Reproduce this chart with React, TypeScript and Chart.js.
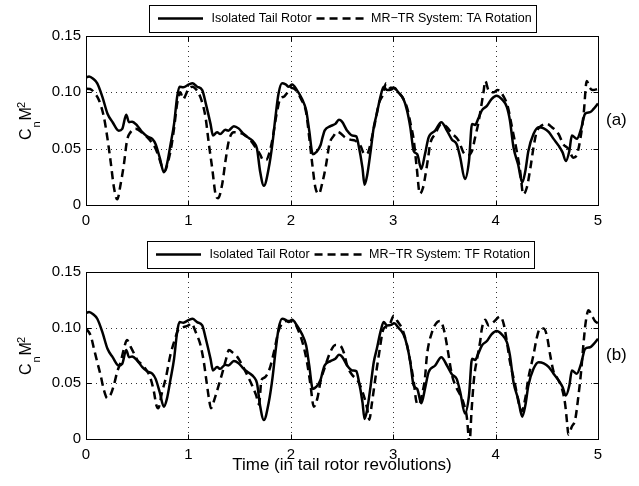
import { useEffect, useRef } from "react";
import { Chart, registerables } from "chart.js";

Chart.register(...registerables);

// ---------- data ----------
const xTicks = [0, 1, 2, 3, 4, 5];
const yTicks = [0, 0.05, 0.1, 0.15];

const seriesIso = "Isolated Tail Rotor";
const seriesTA = "MR\u2212TR System: TA Rotation";
const seriesTF = "MR\u2212TR System: TF Rotation";
const panelTags = ["(a)", "(b)"];
const xTitle = "Time (in tail rotor revolutions)";

// Isolated tail rotor (same curve in both panels)
const isoX = [
  0.0, 0.03, 0.07, 0.11, 0.16, 0.21, 0.26, 0.32, 0.354, 0.393, 0.42, 0.45, 0.5, 0.55, 0.6, 0.647, 0.68, 0.72, 0.76,
  0.79, 0.826, 0.86, 0.89, 0.913, 0.95, 1.005, 1.04, 1.085, 1.135, 1.17, 1.216, 1.24, 1.28, 1.31, 1.36, 1.39, 1.444,
  1.49, 1.54, 1.59, 1.64, 1.67, 1.7, 1.737, 1.785, 1.82, 1.85, 1.88, 1.915, 1.95, 1.98, 2.013, 2.06, 2.11, 2.15, 2.18,
  2.215, 2.25, 2.29, 2.31, 2.33, 2.387, 2.435, 2.47, 2.5, 2.55, 2.6, 2.64, 2.66, 2.7, 2.72, 2.745, 2.78, 2.81, 2.84,
  2.875, 2.907, 2.94, 2.98, 3.01, 3.05, 3.1, 3.135, 3.167, 3.2, 3.235, 3.274, 3.31, 3.346, 3.41, 3.47, 3.525, 3.574,
  3.62, 3.655, 3.7, 3.74, 3.77, 3.8, 3.83, 3.866, 3.915, 3.96, 4.01, 4.06, 4.11, 4.14, 4.175, 4.22, 4.26, 4.29, 4.32,
  4.37, 4.42, 4.47, 4.52, 4.566, 4.615, 4.654, 4.686, 4.72, 4.745, 4.793, 4.835, 4.874, 4.923, 4.955, 5.0,
];
const isoY = [
  0.113, 0.114, 0.112, 0.108, 0.096, 0.081, 0.0735, 0.066, 0.0676, 0.08, 0.0735, 0.074, 0.0705, 0.0646, 0.0607, 0.0587,
  0.054, 0.042, 0.029, 0.036, 0.054, 0.072, 0.096, 0.105, 0.1045, 0.107, 0.108, 0.105, 0.102, 0.09, 0.072, 0.0616,
  0.0646, 0.063, 0.0667, 0.066, 0.07, 0.068, 0.063, 0.0595, 0.0556, 0.05, 0.03, 0.017, 0.033, 0.054, 0.078, 0.0988,
  0.108, 0.107, 0.105, 0.107, 0.102, 0.094, 0.084, 0.066, 0.045, 0.047, 0.053, 0.06, 0.066, 0.07, 0.072, 0.0756, 0.074,
  0.066, 0.0616, 0.061, 0.054, 0.033, 0.018, 0.026, 0.048, 0.069, 0.081, 0.096, 0.105, 0.102, 0.1025, 0.104, 0.1, 0.094,
  0.084, 0.069, 0.048, 0.045, 0.032, 0.045, 0.06, 0.066, 0.0735, 0.066, 0.058, 0.054, 0.042, 0.023, 0.039, 0.072, 0.071,
  0.0765, 0.084, 0.088, 0.094, 0.097, 0.094, 0.087, 0.075, 0.051, 0.036, 0.02, 0.03, 0.048, 0.063, 0.069, 0.068, 0.0646,
  0.0587, 0.0527, 0.0467, 0.039, 0.048, 0.0616, 0.0587, 0.0676, 0.081, 0.0824, 0.085, 0.09,
];

// MR-TR system, TA rotation (panel a)
const taX = [
  0.0, 0.04, 0.078, 0.127, 0.175, 0.208, 0.24, 0.273, 0.305, 0.338, 0.37, 0.4, 0.435, 0.484, 0.55, 0.62, 0.68, 0.72,
  0.75, 0.77, 0.8, 0.83, 0.86, 0.89, 0.92, 0.95, 0.97, 1.0, 1.04, 1.08, 1.12, 1.167, 1.2, 1.232, 1.265, 1.29, 1.33,
  1.362, 1.395, 1.444, 1.5, 1.55, 1.6, 1.65, 1.7, 1.73, 1.76, 1.79, 1.82, 1.86, 1.9, 1.93, 1.96, 2.0, 2.05, 2.1, 2.15,
  2.18, 2.21, 2.24, 2.275, 2.305, 2.345, 2.377, 2.42, 2.45, 2.48, 2.53, 2.58, 2.63, 2.68, 2.72, 2.75, 2.78, 2.82, 2.86,
  2.9, 2.93, 2.97, 3.0, 3.05, 3.1, 3.14, 3.17, 3.2, 3.23, 3.26, 3.29, 3.31, 3.346, 3.36, 3.41, 3.47, 3.525, 3.574, 3.64,
  3.684, 3.72, 3.77, 3.8, 3.83, 3.88, 3.9, 3.93, 3.98, 4.02, 4.08, 4.12, 4.16, 4.2, 4.24, 4.27, 4.305, 4.34, 4.37, 4.4,
  4.45, 4.5, 4.55, 4.615, 4.66, 4.71, 4.76, 4.795, 4.83, 4.86, 4.89, 4.92, 4.95, 5.0,
];
const taY = [
  0.1033, 0.103, 0.1, 0.093, 0.078, 0.06, 0.039, 0.0155, 0.005, 0.0185, 0.036, 0.057, 0.0646, 0.0676, 0.064, 0.058,
  0.05, 0.04, 0.032, 0.03, 0.038, 0.05, 0.068, 0.09, 0.1, 0.094, 0.097, 0.103, 0.105, 0.102, 0.095, 0.078, 0.054, 0.033,
  0.0095, 0.006, 0.0185, 0.039, 0.057, 0.0646, 0.064, 0.062, 0.058, 0.052, 0.045, 0.04, 0.04, 0.046, 0.058, 0.08, 0.095,
  0.096, 0.099, 0.104, 0.102, 0.094, 0.082, 0.06, 0.036, 0.0155, 0.01, 0.0185, 0.036, 0.054, 0.0616, 0.065, 0.064, 0.06,
  0.058, 0.057, 0.0527, 0.045, 0.046, 0.055, 0.072, 0.09, 0.098, 0.108, 0.104, 0.104, 0.1, 0.094, 0.085, 0.072, 0.058,
  0.033, 0.01, 0.015, 0.024, 0.045, 0.054, 0.063, 0.072, 0.069, 0.0635, 0.057, 0.047, 0.044, 0.048, 0.06, 0.072, 0.099,
  0.11, 0.102, 0.1, 0.102, 0.096, 0.087, 0.069, 0.051, 0.03, 0.0095, 0.0155, 0.033, 0.051, 0.0646, 0.0705, 0.072, 0.069,
  0.063, 0.054, 0.05, 0.042, 0.045, 0.06, 0.081, 0.11, 0.104, 0.102, 0.103,
];

// MR-TR system, TF rotation (panel b)
const tfX = [
  0.0, 0.045, 0.078, 0.11, 0.142, 0.175, 0.208, 0.24, 0.273, 0.305, 0.338, 0.37, 0.4, 0.435, 0.468, 0.5, 0.55, 0.6,
  0.63, 0.663, 0.686, 0.705, 0.744, 0.78, 0.823, 0.87, 0.9, 0.93, 0.97, 1.0, 1.03, 1.07, 1.118, 1.15, 1.177, 1.2, 1.22,
  1.258, 1.297, 1.33, 1.37, 1.395, 1.44, 1.476, 1.525, 1.574, 1.62, 1.66, 1.69, 1.713, 1.74, 1.77, 1.8, 1.84, 1.88, 1.92,
  1.96, 2.0, 2.04, 2.08, 2.12, 2.16, 2.19, 2.225, 2.26, 2.29, 2.34, 2.387, 2.435, 2.48, 2.52, 2.55, 2.6, 2.65, 2.7,
  2.745, 2.767, 2.79, 2.826, 2.86, 2.907, 2.96, 3.005, 3.04, 3.086, 3.135, 3.167, 3.2, 3.226, 3.25, 3.28, 3.31, 3.33,
  3.38, 3.43, 3.46, 3.5, 3.53, 3.574, 3.62, 3.655, 3.688, 3.72, 3.745, 3.765, 3.79, 3.82, 3.85, 3.866, 3.9, 3.93, 3.98,
  4.045, 4.08, 4.11, 4.14, 4.19, 4.23, 4.255, 4.29, 4.32, 4.37, 4.4, 4.435, 4.47, 4.5, 4.533, 4.566, 4.6, 4.647, 4.68,
  4.7, 4.71, 4.745, 4.777, 4.81, 4.835, 4.86, 4.88, 4.907, 4.94, 4.97, 5.0,
];
const tfY = [
  0.0993, 0.093, 0.081, 0.069, 0.0575, 0.044, 0.0367, 0.0397, 0.0486, 0.0605, 0.069, 0.081, 0.089, 0.083, 0.077, 0.071,
  0.0665, 0.0605, 0.0546, 0.0426, 0.0307, 0.0277, 0.0426, 0.055, 0.075, 0.09, 0.098, 0.1, 0.101, 0.102, 0.104, 0.0963,
  0.0844, 0.0695, 0.0516, 0.0367, 0.0277, 0.0367, 0.0486, 0.059, 0.0725, 0.08, 0.077, 0.074, 0.0665, 0.0575, 0.0486,
  0.0396, 0.031, 0.053, 0.055, 0.058, 0.065, 0.08, 0.097, 0.104, 0.106, 0.106, 0.104, 0.096, 0.085, 0.068, 0.05, 0.029,
  0.0367, 0.0516, 0.0665, 0.0784, 0.0844, 0.084, 0.077, 0.066, 0.0575, 0.053, 0.0426, 0.0277, 0.0173, 0.0307, 0.0546,
  0.0755, 0.0993, 0.102, 0.1106, 0.106, 0.0993, 0.0844, 0.0695, 0.052, 0.0337, 0.031, 0.0397, 0.0546, 0.0755, 0.0963,
  0.105, 0.106, 0.0963, 0.0814, 0.0575, 0.0456, 0.0396, 0.032, 0.019, -0.004, 0.025, 0.055, 0.0725, 0.088, 0.0993, 0.107,
  0.102, 0.105, 0.11, 0.103, 0.0874, 0.0695, 0.049, 0.0307, 0.0247, 0.0367, 0.0546, 0.0755, 0.09, 0.0993, 0.0993, 0.093,
  0.0755, 0.0605, 0.055, 0.0456, 0.0307, 0.0128, 0.004, 0.0113, 0.0173, 0.0396, 0.0605, 0.0874, 0.105, 0.1157, 0.111,
  0.106, 0.104,
];

// ---------- drawing helpers ----------
const FONT = '"Liberation Sans", Arial, Helvetica, sans-serif';

type PanelCfg = {
  dashX: number[];
  dashY: number[];
  dashName: string;
  tag: string;
  height: number;
  padTop: number;
  xAxisH: number;
  legendLeft: number;
  legendCy: number;
  showXTitle: boolean;
  xTitleY: number;
};

function pts(xs: number[], ys: number[]) {
  return xs.map((x, i) => ({ x, y: ys[i] }));
}

function framePlugin(cfg: PanelCfg) {
  return {
    id: "matlabFrame",
    beforeDatasetsDraw(chart: any) {
      const ctx = chart.ctx;
      const { left, right, top, bottom } = chart.chartArea;
      const xs = chart.scales.x;
      const ys = chart.scales.y;
      ctx.save();
      ctx.strokeStyle = "#333";
      ctx.lineWidth = 1;
      ctx.setLineDash([1, 4]);
      ctx.beginPath();
      xTicks.slice(1, -1).forEach((v) => {
        const px = Math.round(xs.getPixelForValue(v)) + 0.5;
        ctx.moveTo(px, top);
        ctx.lineTo(px, bottom);
      });
      yTicks.slice(1, -1).forEach((v) => {
        const py = Math.round(ys.getPixelForValue(v)) + 0.5;
        ctx.moveTo(left, py);
        ctx.lineTo(right, py);
      });
      ctx.stroke();
      ctx.restore();
    },
    afterDatasetsDraw(chart: any) {
      const ctx = chart.ctx;
      const { left, right, top, bottom } = chart.chartArea;
      const xs = chart.scales.x;
      const ys = chart.scales.y;
      const L = Math.round(left) + 0.5;
      const R = Math.round(right) + 0.5;
      const T = Math.round(top) + 0.5;
      const B = Math.round(bottom) + 0.5;
      ctx.save();
      ctx.strokeStyle = "#000";
      ctx.lineWidth = 1;
      ctx.setLineDash([]);
      ctx.strokeRect(L, T, R - L, B - T);
      const tl = 5;
      ctx.beginPath();
      xTicks.forEach((v) => {
        const px = Math.round(xs.getPixelForValue(v)) + 0.5;
        ctx.moveTo(px, B);
        ctx.lineTo(px, B - tl);
        ctx.moveTo(px, T);
        ctx.lineTo(px, T + tl);
      });
      yTicks.forEach((v) => {
        const py = Math.round(ys.getPixelForValue(v)) + 0.5;
        ctx.moveTo(L, py);
        ctx.lineTo(L + tl, py);
        ctx.moveTo(R, py);
        ctx.lineTo(R - tl, py);
      });
      ctx.stroke();
      ctx.restore();
    },
    afterDraw(chart: any) {
      const ctx = chart.ctx;
      const { left, right, top, bottom } = chart.chartArea;
      const midY = (top + bottom) / 2;
      ctx.save();

      // legend
      ctx.font = `12.5px ${FONT}`;
      ctx.fillStyle = "#000";
      ctx.textBaseline = "middle";
      ctx.textAlign = "left";
      const lx = cfg.legendLeft;
      const cy = cfg.legendCy;
      const t1x = lx + 62.5;
      const w1 = ctx.measureText(seriesIso).width;
      const s2a = t1x + w1 + 5;
      const s2b = s2a + 48;
      const t2x = s2b + 6.5;
      const w2 = ctx.measureText(cfg.dashName).width;
      const rx = t2x + w2 + 4;
      ctx.fillStyle = "#fff";
      ctx.fillRect(lx, cy - 13.5, rx - lx, 27);
      ctx.strokeStyle = "#000";
      ctx.lineWidth = 1;
      ctx.strokeRect(Math.round(lx) + 0.5, Math.round(cy - 13.5) + 0.5, Math.round(rx - lx), 27);
      ctx.lineWidth = 2.5;
      ctx.beginPath();
      ctx.moveTo(lx + 9, cy);
      ctx.lineTo(lx + 54, cy);
      ctx.stroke();
      ctx.setLineDash([8, 5]);
      ctx.beginPath();
      ctx.moveTo(s2a, cy);
      ctx.lineTo(s2b, cy);
      ctx.stroke();
      ctx.setLineDash([]);
      ctx.fillStyle = "#000";
      ctx.fillText(seriesIso, t1x, cy + 0.5);
      ctx.fillText(cfg.dashName, t2x, cy + 0.5);

      // panel tag
      ctx.font = `17px ${FONT}`;
      ctx.textAlign = "left";
      ctx.textBaseline = "middle";
      ctx.fillText(cfg.tag, right + 8, midY);

      // y-axis title  C_n M^2 (rotated)
      ctx.save();
      ctx.translate(31, midY);
      ctx.rotate(-Math.PI / 2);
      ctx.textBaseline = "alphabetic";
      ctx.textAlign = "left";
      const big = `16px ${FONT}`;
      const small = `11px ${FONT}`;
      ctx.font = big;
      const wC = ctx.measureText("C").width;
      const wM = ctx.measureText("M").width;
      ctx.font = small;
      const wn = ctx.measureText("n").width;
      const w2s = ctx.measureText("2").width;
      const total = wC + 1 + wn + 1 + wM + w2s;
      let x0 = -total / 2;
      ctx.font = big;
      ctx.fillText("C", x0, 0);
      x0 += wC + 1;
      ctx.font = small;
      ctx.fillText("n", x0, 9);
      x0 += wn + 1;
      ctx.font = big;
      ctx.fillText("M", x0, 0);
      x0 += wM - 1;
      ctx.font = small;
      ctx.fillText("2", x0, -6);
      ctx.restore();

      // x-axis title
      if (cfg.showXTitle) {
        ctx.font = `17px ${FONT}`;
        ctx.textAlign = "center";
        ctx.textBaseline = "middle";
        ctx.fillText(xTitle, (left + right) / 2, cfg.xTitleY);
      }
      ctx.restore();
    },
  };
}

function buildPanel(canvas: HTMLCanvasElement, cfg: PanelCfg) {
  return new Chart(canvas, {
    type: "line",
    data: {
      datasets: [
        {
          label: seriesIso,
          data: pts(isoX, isoY),
          borderColor: "#000",
          borderWidth: 2.5,
          pointRadius: 0,
          cubicInterpolationMode: "monotone",
          fill: false,
          order: 2,
        },
        {
          label: cfg.dashName,
          data: pts(cfg.dashX, cfg.dashY),
          borderColor: "#000",
          borderWidth: 2.5,
          borderDash: [8, 5],
          pointRadius: 0,
          cubicInterpolationMode: "monotone",
          fill: false,
          order: 1,
        },
      ],
    },
    options: {
      animation: false,
      responsive: false,
      devicePixelRatio: 1,
      events: [],
      layout: { padding: { left: 0, right: 41, top: cfg.padTop, bottom: 0 } },
      plugins: { legend: { display: false }, tooltip: { enabled: false }, title: { display: false } },
      scales: {
        x: {
          type: "linear",
          min: 0,
          max: 5,
          grid: { display: false, drawTicks: false },
          border: { display: false },
          afterBuildTicks: (s: any) => {
            s.ticks = xTicks.map((v) => ({ value: v }));
          },
          afterFit: (s: any) => {
            s.height = cfg.xAxisH;
          },
          ticks: {
            autoSkip: false,
            maxRotation: 0,
            padding: 7,
            color: "#000",
            font: { family: FONT, size: 15 },
            callback: (v: any) => String(v),
          },
        },
        y: {
          type: "linear",
          min: 0,
          max: 0.15,
          grid: { display: false, drawTicks: false },
          border: { display: false },
          afterBuildTicks: (s: any) => {
            s.ticks = yTicks.map((v) => ({ value: v }));
          },
          afterFit: (s: any) => {
            s.width = 86;
          },
          ticks: {
            padding: 5,
            color: "#000",
            font: { family: FONT, size: 15 },
            callback: (v: any) => (Number(v) === 0 ? "0" : Number(v).toFixed(2)),
          },
        },
      },
    },
    plugins: [framePlugin(cfg)],
  } as any);
}

export default function App() {
  const refA = useRef<HTMLCanvasElement>(null);
  const refB = useRef<HTMLCanvasElement>(null);

  useEffect(() => {
    const a = buildPanel(refA.current!, {
      dashX: taX,
      dashY: taY,
      dashName: seriesTA,
      tag: panelTags[0],
      height: 234,
      padTop: 36,
      xAxisH: 29,
      legendLeft: 149,
      legendCy: 18.5,
      showXTitle: false,
      xTitleY: 0,
    });
    const b = buildPanel(refB.current!, {
      dashX: tfX,
      dashY: tfY,
      dashName: seriesTF,
      tag: panelTags[1],
      height: 252,
      padTop: 38,
      xAxisH: 47,
      legendLeft: 147,
      legendCy: 20.5,
      showXTitle: true,
      xTitleY: 231,
    });
    return () => {
      a.destroy();
      b.destroy();
    };
  }, []);

  return (
    <div style={{ position: "fixed", left: 0, top: 0, width: 639, height: 486, background: "#fff" }}>
      <canvas ref={refA} width={639} height={234} style={{ position: "absolute", left: 0, top: 0, display: "block" }} />
      <canvas ref={refB} width={639} height={252} style={{ position: "absolute", left: 0, top: 234, display: "block" }} />
    </div>
  );
}
